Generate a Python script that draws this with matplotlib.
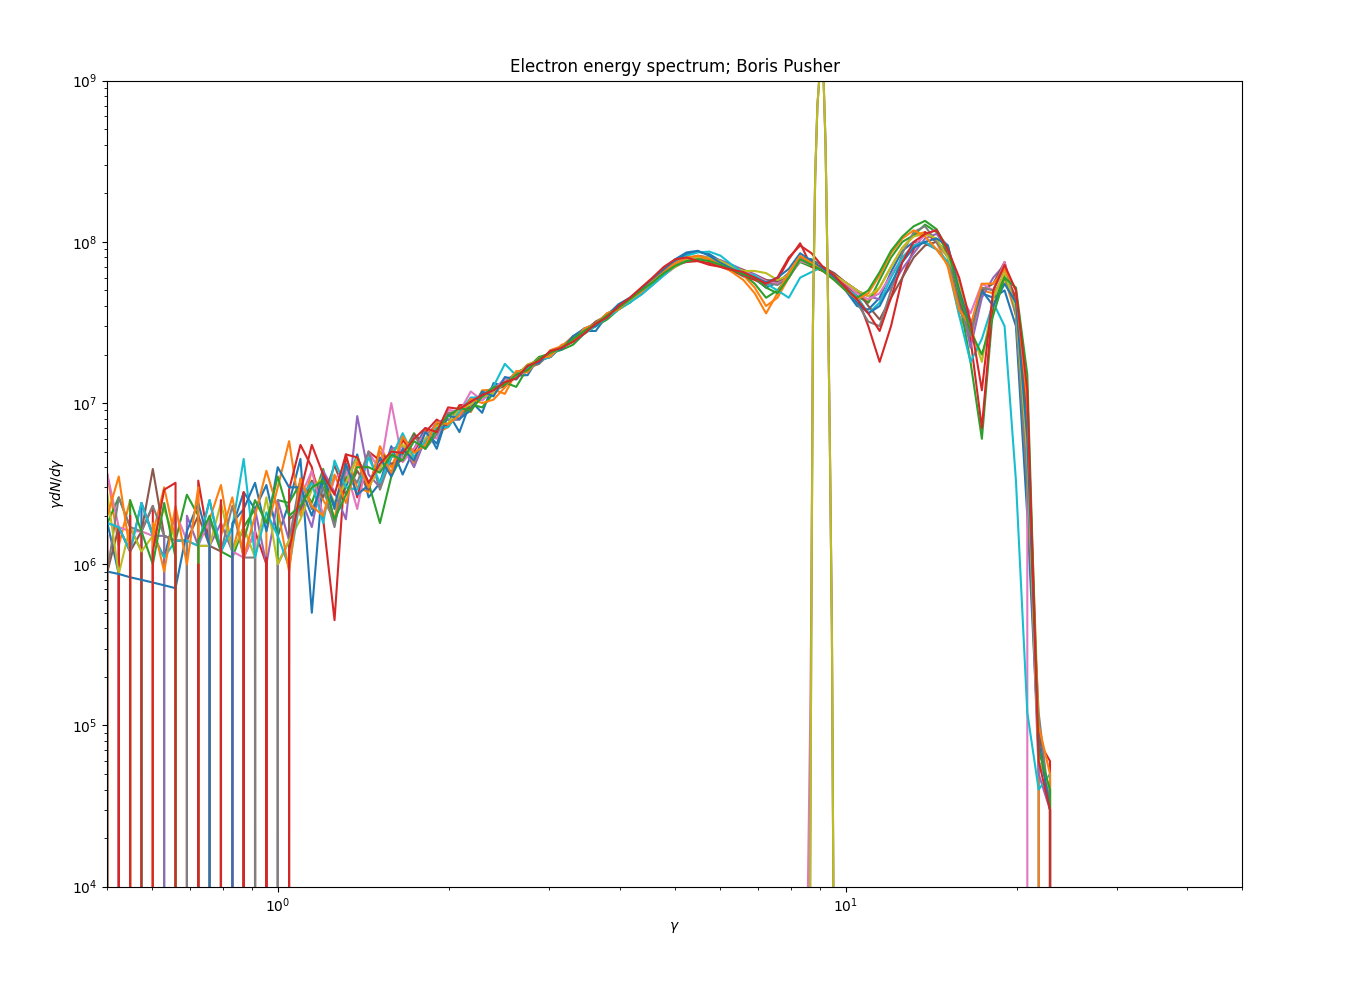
import numpy as np
import matplotlib
matplotlib.use("Agg")
import matplotlib.pyplot as plt

# log-spaced energy bins, 0.02 dex apart (gamma = 0.5 ... 25)
gamma = np.logspace(-0.3, 1.4, 86)

# gamma dN/dgamma, in units of 1e6 (0 = empty bin)
spec_01 = [1.8, 0.87, 0, 2.4, 1.54, 1.1, 2.1, 0, 1.3, 2.5, 1.2, 1.7, 2.8, 2.2, 3.1, 1.5, 2.4,
           4.5, 0.5, 3.6, 2.2, 3.0, 4.8, 2.6, 3.2, 5.4, 3.6, 5.2, 7.0, 5.2, 8.7, 6.6, 10.3, 8.7, 13.3, 12.7, 14.8, 14.9, 19.3, 19.3, 22.5,
           24, 28, 28, 35, 40, 42, 49, 59, 67, 76, 84, 87, 84, 76, 67, 61, 59, 52, 56, 64,
           80, 78, 70, 60, 50, 40, 38, 45, 65, 88, 100, 98, 90, 75, 38, 28, 48, 45, 50, 30, 2, 0.07, 0, 0, 0]
spec_02 = [3.6, 1.3, 2.5, 0, 1.54, 3.0, 1.4, 1.4, 0, 1.9, 3.1, 1.2, 2.2, 0, 1.6, 3.0, 5.8,
           2.0, 3.8, 2.5, 1.9, 4.6, 3.0, 2.8, 5.4, 4.0, 6.0, 4.2, 6.8, 6.5, 7.1, 9.7, 8.8, 12.0, 12.1, 11.4, 15.5, 16.5, 17.5, 21.3, 22.5,
           26, 27, 32, 34, 40, 44, 50, 57, 66, 74, 80, 80, 78, 74, 67, 62, 52, 40, 45, 60,
           78, 75, 70, 62, 56, 50, 42, 52, 70, 92, 110, 115, 100, 70, 35, 25, 50, 48, 60, 35, 5, 0.09, 0, 0, 0]
spec_03 = [1.8, 2.6, 1.7, 1.2, 0, 1.5, 1.4, 2.7, 2.0, 0, 1.2, 1.1, 1.7, 2.2, 0, 2.5, 2.4,
           3.2, 2.4, 3.9, 1.8, 3.4, 4.6, 3.2, 1.8, 3.5, 4.8, 6.5, 5.2, 7.4, 7.9, 7.9, 9.8, 9.4, 11.5, 13.4, 12.6, 16.5, 19.3, 20.3, 21.4,
           23, 27, 30, 33, 38, 42, 48, 55, 63, 71, 77, 80, 79, 75, 68, 63, 55, 45, 50, 62,
           75, 70, 68, 60, 52, 46, 42, 58, 80, 100, 110, 128, 115, 85, 45, 18, 6, 40, 62, 40, 8, 0.06, 0.04, 0, 0]
spec_04 = [0, 1.7, 0, 1.6, 2.3, 0, 1.4, 0, 3.3, 1.3, 0, 1.2, 0, 1.6, 1.0, 0, 2.9,
           5.5, 4.0, 1.9, 0.45, 4.8, 2.6, 5.0, 4.4, 3.6, 5.9, 5.0, 6.6, 7.9, 7.1, 9.7, 9.8, 10.9, 12.7, 12.7, 14.8, 17.3, 18.4, 20.3, 22.5,
           25, 27, 31, 35, 39, 44, 50, 58, 66, 72, 75, 76, 74, 70, 66, 62, 58, 54, 58, 78,
           98, 70, 66, 60, 54, 46, 30, 18, 30, 60, 90, 115, 100, 85, 55, 25, 7, 45, 65, 45, 9, 0.08, 0.06, 0, 0]
spec_05 = [1.8, 1.7, 1.2, 2.4, 1.5, 1.5, 0, 2.0, 1.3, 1.3, 1.8, 1.2, 0, 2.2, 1.0, 2.5, 1.4,
           2.6, 1.7, 3.8, 2.8, 1.9, 8.3, 3.6, 3.0, 5.2, 5.4, 4.0, 6.0, 7.6, 7.9, 7.9, 10.8, 10.4, 12.1, 14.1, 14.5, 16.5, 18.4, 19.3, 22.5,
           25, 29, 31, 36, 39, 43, 47, 54, 62, 70, 76, 80, 80, 77, 72, 67, 63, 58, 55, 62,
           78, 74, 68, 62, 56, 50, 46, 44, 52, 68, 85, 105, 112, 95, 50, 22, 45, 60, 72, 38, 4, 0.05, 0.03, 0, 0]
spec_06 = [0.9, 1.7, 1.2, 1.6, 3.9, 1.5, 1.4, 1.4, 2.0, 1.3, 1.2, 0, 1.1, 1.6, 0, 0, 1.9,
           2.2, 3.3, 2.6, 4.1, 2.7, 3.8, 2.9, 5.0, 4.2, 4.4, 6.4, 5.6, 6.8, 8.7, 8.8, 9.3, 11.4, 12.1, 12.7, 15.5, 16.5, 18.4, 19.3, 22.5,
           25, 28, 32, 35, 39, 44, 50, 57, 64, 72, 79, 82, 80, 76, 70, 67, 62, 58, 57, 62,
           80, 72, 70, 64, 56, 50, 40, 33, 45, 60, 80, 95, 100, 85, 42, 30, 50, 55, 75, 40, 3, 0.1, 0.03, 0, 0]
spec_07 = [3.6, 1.7, 1.6, 1.6, 1.5, 0, 2.1, 1.4, 1.3, 1.9, 0, 1.2, 1.1, 1.6, 0, 1.0, 1.4,
           2.6, 3.8, 2.0, 3.4, 3.9, 2.2, 5.0, 3.8, 10, 4.3, 5.2, 6.6, 6.0, 9.1, 8.8, 11.8, 10.4, 12.1, 14.1, 14.8, 15.7, 18.4, 20.3, 22.5,
           24, 28, 31, 35, 40, 43, 49, 56, 65, 73, 78, 80, 80, 75, 70, 66, 62, 57, 55, 60,
           76, 72, 68, 62, 55, 48, 44, 48, 62, 80, 95, 110, 120, 90, 48, 36, 55, 50, 75, 35, 4, 0, 0, 0, 0]
spec_08 = [0.9, 2.6, 1.7, 1.6, 2.3, 1.5, 1.4, 1.4, 0, 1.9, 1.2, 2.3, 1.1, 1.1, 0, 1.0, 1.4,
           3.4, 2.2, 3.0, 1.7, 4.0, 3.2, 5.0, 2.9, 4.6, 4.9, 6.2, 5.2, 6.4, 8.7, 8.4, 10.3, 10.9, 11.5, 13.4, 15.5, 16.5, 17.5, 20.3, 22.5,
           25, 29, 31, 35, 39, 44, 49, 55, 63, 71, 77, 80, 79, 75, 69, 64, 60, 56, 54, 60,
           80, 73, 66, 60, 52, 42, 32, 30, 50, 85, 115, 125, 100, 80, 40, 26, 52, 50, 70, 35, 3, 0.12, 0.03, 0, 0]
spec_09 = [2.7, 0.87, 1.7, 1.2, 1.5, 2.2, 1.4, 0, 1.3, 1.3, 2.4, 1.2, 1.7, 1.1, 2.6, 1.0, 1.4,
           1.9, 2.9, 3.5, 2.4, 3.2, 4.6, 3.0, 4.0, 5.0, 5.5, 4.6, 6.0, 7.2, 7.5, 9.2, 9.8, 10.9, 11.5, 13.4, 14.8, 17.3, 18.4, 20.3, 22.5,
           25, 28, 31, 36, 39, 43, 49, 56, 63, 70, 77, 80, 80, 76, 70, 66, 66, 64, 58, 62,
           78, 72, 68, 62, 56, 50, 46, 52, 70, 92, 108, 112, 105, 80, 55, 30, 18, 45, 65, 38, 5, 0.06, 0.04, 0, 0]
spec_10 = [1.8, 1.7, 1.2, 2.4, 1.5, 1.1, 1.4, 1.4, 1.3, 2.5, 1.2, 1.7, 4.5, 1.1, 2.1, 1.5, 0.96,
           2.6, 3.2, 1.8, 4.4, 3.0, 2.9, 4.6, 3.2, 4.6, 6.5, 4.6, 5.8, 7.0, 7.1, 8.8, 10.8, 10.9, 12.7, 17.5, 14.8, 16.5, 18.4, 19.3, 22.5,
           24, 27, 30, 34, 38, 42, 47, 54, 62, 72, 82, 86, 87, 82, 72, 64, 62, 55, 50, 45,
           60, 65, 70, 60, 52, 46, 36, 42, 60, 80, 95, 100, 90, 75, 35, 18, 25, 42, 30, 3.3, 0.12, 0.04, 0.05, 0, 0]
spec_11 = [0.90, 0.87, 0.83, 0.80, 0.77, 0.74, 0.71, 1.6, 2.4, 1.3, 0, 1.8, 2.2, 3.2, 1.6, 4.0, 3.0,
           3.0, 2.0, 3.5, 2.3, 4.2, 2.7, 3.1, 4.6, 3.5, 5.2, 4.4, 6.6, 5.6, 8.4, 8.0, 9.0, 11.8, 11.0, 14.5, 14.0, 17.0, 17.8, 21.0, 21.5,
           26, 29, 30, 35, 41, 45, 51, 58, 68, 78, 86, 88, 82, 74, 68, 63, 60, 56, 60, 68,
           85, 76, 68, 60, 50, 42, 36, 40, 55, 75, 92, 100, 105, 95, 50, 30, 50, 40, 55, 42, 6, 0.08, 0.03, 0, 0]
spec_12 = [2.0, 3.5, 1.2, 0, 1.8, 0.9, 2.3, 1.0, 3.0, 0, 1.5, 2.6, 1.1, 2.0, 3.8, 2.2, 0.9,
           3.4, 2.3, 2.0, 3.6, 2.4, 4.3, 3.0, 5.0, 3.7, 6.2, 4.9, 5.5, 7.6, 7.4, 8.4, 10.6, 10.0, 10.5, 12.5, 15.8, 15.5, 19.0, 19.5, 23.0,
           24, 29, 31, 36, 38, 44, 49, 57, 65, 73, 80, 82, 78, 72, 65, 58, 48, 36, 48, 65,
           82, 74, 66, 58, 50, 44, 48, 62, 85, 105, 118, 108, 90, 72, 38, 30, 55, 55, 68, 50, 10, 0.1, 0.05, 0, 0]
spec_13 = [1.2, 0, 2.5, 1.6, 1.0, 2.4, 1.1, 0, 1.4, 2.0, 1.2, 0, 1.4, 2.5, 1.8, 3.5, 2.0,
           2.3, 3.0, 3.3, 1.9, 2.7, 4.0, 4.0, 3.7, 4.8, 4.4, 5.8, 5.2, 6.8, 8.3, 9.3, 9.0, 11.0, 12.5, 13.0, 15.0, 16.0, 18.8, 20.5, 22.0,
           25, 28, 31, 35, 39, 44, 50, 56, 64, 71, 76, 78, 76, 72, 67, 63, 60, 52, 48, 60,
           78, 72, 66, 58, 50, 45, 50, 65, 88, 108, 125, 135, 120, 90, 48, 28, 20, 35, 60, 52, 15, 0.07, 0.04, 0, 0]
spec_14 = [1.5, 0, 2.0, 0, 1.2, 2.9, 3.2, 0, 1.0, 0, 2.5, 0, 2.8, 0, 1.1, 0, 1.2,
           2.8, 5.5, 3.6, 2.7, 4.8, 4.6, 3.2, 4.2, 5.0, 4.9, 6.0, 7.0, 6.6, 9.4, 9.2, 10.2, 11.2, 12.0, 13.5, 14.2, 17.0, 18.2, 21.0, 22.0,
           24, 27, 31, 34, 40, 45, 52, 60, 70, 78, 80, 76, 72, 70, 67, 65, 60, 55, 60, 80,
           95, 85, 70, 62, 52, 44, 36, 28, 45, 75, 100, 112, 118, 90, 60, 32, 12, 50, 72, 50, 12, 0.06, 0.03, 0, 0]

# initial (mono-energetic) spectrum around gamma ~ 9, same units
peak_gamma = [8.56, 8.66, 8.70, 8.76, 8.84, 8.92, 9.00, 9.06, 9.14, 9.22, 9.30, 9.38, 9.46, 9.52]
peak_pink = [0.005, 0.1, 0.5, 35, 260, 700, 1100, 1300, 1100, 400, 60, 6, 0.4, 0.008]
peak_olive = [0, 0.008, 0.3, 30, 250, 700, 1100, 1300, 1100, 400, 60, 6, 0.4, 0.008]

spectra = [spec_01, spec_02, spec_03, spec_04, spec_05, spec_06, spec_07,
           spec_08, spec_09, spec_10, spec_11, spec_12, spec_13, spec_14]

fig = plt.figure(figsize=(13.52, 9.84), dpi=100)
ax = fig.add_subplot(111)
fig.subplots_adjust(left=0.079, right=0.919, top=0.918, bottom=0.099)

for s in spectra:
    ax.loglog(gamma, np.array(s) * 1e6)

ax.loglog(peak_gamma, np.array(peak_pink) * 1e6, color='C6')
ax.loglog(peak_gamma, np.array(peak_olive) * 1e6, color='C7')
ax.loglog(peak_gamma, np.array(peak_olive) * 1e6, color='C8')

ax.set_xlim(0.5, 50)
ax.set_ylim(1e4, 1e9)
ax.set_xlabel(r'$\gamma$')
ax.set_ylabel(r'$\gamma dN/d\gamma$')
ax.set_title('Electron energy spectrum; Boris Pusher')

fig.savefig('out.png', dpi=100)
